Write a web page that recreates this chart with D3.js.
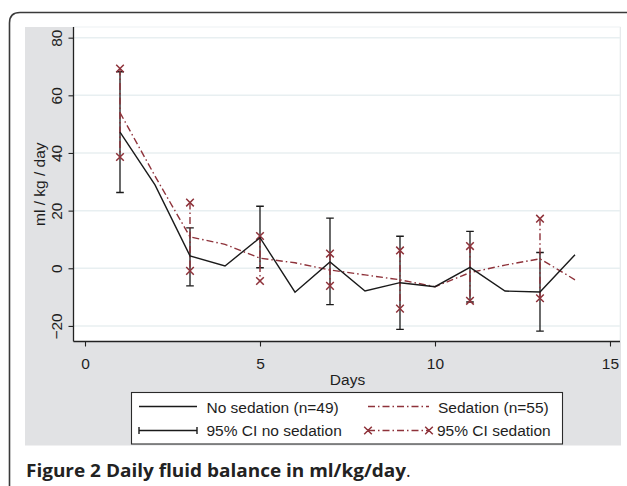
<!DOCTYPE html>
<html>
<head>
<meta charset="utf-8">
<script src="https://cdn.jsdelivr.net/npm/d3@7"></script>
<style>
  html, body { margin: 0; padding: 0; background: #ffffff; }
  svg { display: block; }
</style>
</head>
<body>
<svg id="chart" width="627" height="486"></svg>
<script>
// ---------------- DATA ----------------
const days = [1, 2, 3, 4, 5, 6, 7, 8, 9, 10, 11, 12, 13, 14];
const noSedation = [47.2, 28.9, 4.3, 0.8, 10.6, -8.3, 2.2, -7.9, -5.0, -6.4, 0.3, -7.9, -8.2, 4.7];
const sedation   = [54.0, 32.0, 10.9, 8.3, 3.5, 1.9, -0.6, -2.3, -4.0, -6.4, -1.5, 1.1, 3.3, -4.0];

const ciDays = [1, 3, 5, 7, 9, 11, 13];
const ciNoSedLow  = [26.3, -6.1, 0.2, -12.6, -21.2, -11.7, -21.8];
const ciNoSedHigh = [68.2, 14.0, 21.5, 17.4, 11.1, 12.8, 5.5];
const ciSedLow    = [38.6, -0.9, -4.4, -6.1, -14.0, -11.3, -10.4];
const ciSedHigh   = [69.3, 22.8, 11.2, 5.1, 6.2, 7.7, 17.2];

const xTicks = [0, 5, 10, 15];
const yTicks = [-20, 0, 20, 40, 60, 80];

const xTitle = "Days";
const yTitle = "ml / kg / day";
const legendLabels = ["No sedation (n=49)", "Sedation (n=55)", "95% CI no sedation", "95% CI sedation"];

// ---------------- STYLE ----------------
const RED = "#8e323a";
const BLACK = "#1a1a1a";
const PANEL = "#e1e2e4";
const GRID = "#e8eff1";
const FONT = "'Liberation Sans', Arial, Helvetica, sans-serif";
const DASHDOT = "7,3,1.5,3";

const svg = d3.select("#chart");

// outer rounded frame (extends beyond the right/bottom edge)
svg.append("path")
  .attr("d", "M 9.5 520 L 9.5 23 Q 9.5 12.5 20 12.5 L 660 12.5")
  .attr("fill", "none").attr("stroke", "#3a3a3a").attr("stroke-width", 1.6);

// grey graph region
svg.append("rect").attr("x", 25).attr("y", 27).attr("width", 596).attr("height", 418.5)
  .attr("fill", PANEL);

// plot region
const P = { left: 73.5, right: 620, top: 27, bottom: 341.5 };
svg.append("rect").attr("x", P.left).attr("y", P.top)
  .attr("width", P.right - P.left).attr("height", P.bottom - P.top)
  .attr("fill", "#ffffff").attr("stroke", "#eef2f3").attr("stroke-width", 1);

const x = d3.scaleLinear().domain([-0.3286, 15.286]).range([P.left, P.right]);
const y = d3.scaleLinear().domain([-25.4, 83.7]).range([P.bottom, P.top]);

// gridlines
svg.append("g").selectAll("line").data(yTicks).join("line")
  .attr("x1", P.left).attr("x2", P.right)
  .attr("y1", d => y(d)).attr("y2", d => y(d))
  .attr("stroke", GRID).attr("stroke-width", 1.5);

// axes
const xAxis = d3.axisBottom(x).tickValues(xTicks).tickSize(5).tickPadding(4).tickFormat(d3.format("d"));
const gx = svg.append("g").attr("transform", `translate(0,${P.bottom})`).call(xAxis);
gx.select(".domain").attr("d", `M${P.left},0H${P.right}`).attr("stroke", "#222").attr("stroke-width", 1.3);
gx.selectAll(".tick line").attr("stroke", "#222").attr("stroke-width", 1.1);
gx.selectAll(".tick text").attr("font-family", FONT).attr("font-size", 15.5).attr("fill", "#1e1e1e")
  .attr("dy", null).attr("y", 27);

const yAxis = d3.axisLeft(y).tickValues(yTicks).tickSize(5).tickFormat(d3.format("d"));
const gy = svg.append("g").attr("transform", `translate(${P.left},0)`).call(yAxis);
gy.select(".domain").attr("d", `M0,${P.top}V${P.bottom}`).attr("stroke", "#222").attr("stroke-width", 1.3);
gy.selectAll(".tick line").attr("stroke", "#222").attr("stroke-width", 1.1);
gy.selectAll(".tick text")
  .attr("font-family", FONT).attr("font-size", 15.5).attr("fill", "#1e1e1e")
  .attr("x", null).attr("dy", null)
  .attr("text-anchor", "middle")
  .attr("transform", "translate(-11.8,0) rotate(-90)");

// axis titles
svg.append("text").attr("x", x(7.5)).attr("y", 385)
  .attr("text-anchor", "middle").attr("font-family", FONT).attr("font-size", 15.5).attr("fill", "#1e1e1e")
  .text(xTitle);
svg.append("text").attr("transform", `translate(45,${(P.top + P.bottom) / 2}) rotate(-90)`)
  .attr("text-anchor", "middle").attr("font-family", FONT).attr("font-size", 15.5).attr("fill", "#1e1e1e")
  .text(yTitle);

const plot = svg.append("g");

// black CI bars
const ciN = ciDays.map((d, i) => ({ d, lo: ciNoSedLow[i], hi: ciNoSedHigh[i] }));
const ciS = ciDays.map((d, i) => ({ d, lo: ciSedLow[i], hi: ciSedHigh[i] }));

plot.append("g").selectAll("line").data(ciN).join("line")
  .attr("x1", d => x(d.d)).attr("x2", d => x(d.d))
  .attr("y1", d => y(d.lo)).attr("y2", d => y(d.hi))
  .attr("stroke", BLACK).attr("stroke-width", 1.3);
plot.append("g").selectAll("path").data(ciN).join("path")
  .attr("d", d => `M${x(d.d) - 3.8},${y(d.lo)}H${x(d.d) + 3.8}M${x(d.d) - 3.8},${y(d.hi)}H${x(d.d) + 3.8}`)
  .attr("stroke", BLACK).attr("stroke-width", 1.4).attr("fill", "none");

// red CI (dash-dot) with x markers
plot.append("g").selectAll("line").data(ciS).join("line")
  .attr("x1", d => x(d.d)).attr("x2", d => x(d.d))
  .attr("y1", d => y(d.hi)).attr("y2", d => y(d.lo))
  .attr("stroke", RED).attr("stroke-width", 1.4).attr("stroke-dasharray", DASHDOT);

const xMark = (cx, cy, r) => `M${cx - r},${cy - r}L${cx + r},${cy + r}M${cx - r},${cy + r}L${cx + r},${cy - r}`;
plot.append("g").selectAll("path").data(ciS).join("path")
  .attr("d", d => xMark(x(d.d), y(d.lo), 3.8) + xMark(x(d.d), y(d.hi), 3.8))
  .attr("stroke", RED).attr("stroke-width", 1.5).attr("fill", "none");

// lines
const line = d3.line().x(d => x(d[0])).y(d => y(d[1]));
plot.append("path").datum(days.map((d, i) => [d, sedation[i]]))
  .attr("d", line).attr("fill", "none").attr("stroke", RED).attr("stroke-width", 1.4)
  .attr("stroke-dasharray", DASHDOT);
plot.append("path").datum(days.map((d, i) => [d, noSedation[i]]))
  .attr("d", line).attr("fill", "none").attr("stroke", BLACK).attr("stroke-width", 1.4)
  .attr("stroke-linejoin", "miter");

// ---------------- LEGEND ----------------
const lg = svg.append("g");
lg.append("rect").attr("x", 131.5).attr("y", 392.5).attr("width", 431).attr("height", 51.5)
  .attr("fill", "#ffffff").attr("stroke", "#2a2a2a").attr("stroke-width", 1.1);

const r1 = 406.5, r2 = 430.5;
const c1a = 139, c1b = 197, c2a = 368, c2b = 429;
lg.append("line").attr("x1", c1a).attr("x2", c1b).attr("y1", r1).attr("y2", r1)
  .attr("stroke", BLACK).attr("stroke-width", 1.4);
lg.append("line").attr("x1", c2a).attr("x2", c2b).attr("y1", r1).attr("y2", r1)
  .attr("stroke", RED).attr("stroke-width", 1.4).attr("stroke-dasharray", DASHDOT);
lg.append("path").attr("d", `M${c1a},${r2}H${c1b}M${c1a},${r2 - 3.5}V${r2 + 3.5}M${c1b},${r2 - 3.5}V${r2 + 3.5}`)
  .attr("stroke", BLACK).attr("stroke-width", 1.4).attr("fill", "none");
lg.append("line").attr("x1", c2a).attr("x2", c2b).attr("y1", r2).attr("y2", r2)
  .attr("stroke", RED).attr("stroke-width", 1.4).attr("stroke-dasharray", DASHDOT);
lg.append("path").attr("d", xMark(c2a, r2, 3.8) + xMark(c2b, r2, 3.8))
  .attr("stroke", RED).attr("stroke-width", 1.5).attr("fill", "none");

const legendPos = [[206.5, 413], [438, 413], [206.5, 435.5], [437, 435.5]];
lg.selectAll("text.leg").data(legendLabels).join("text").attr("class", "leg")
  .attr("x", (d, i) => legendPos[i][0]).attr("y", (d, i) => legendPos[i][1])
  .attr("font-family", FONT).attr("font-size", 15.5).attr("fill", "#1e1e1e")
  .text(d => d);

// ---------------- CAPTION ----------------
const cap = svg.append("text").attr("x", 26).attr("y", 477)
  .attr("font-family", "'Open Sans', 'Noto Sans', sans-serif").attr("font-size", 17.5).attr("fill", "#222");
cap.append("tspan").attr("font-weight", "bold").text("Figure 2 Daily fluid balance in ml/kg/day")
  .attr("textLength", 380).attr("lengthAdjust", "spacingAndGlyphs");
cap.append("tspan").attr("font-weight", "normal").text(".");
</script>
</body>
</html>
